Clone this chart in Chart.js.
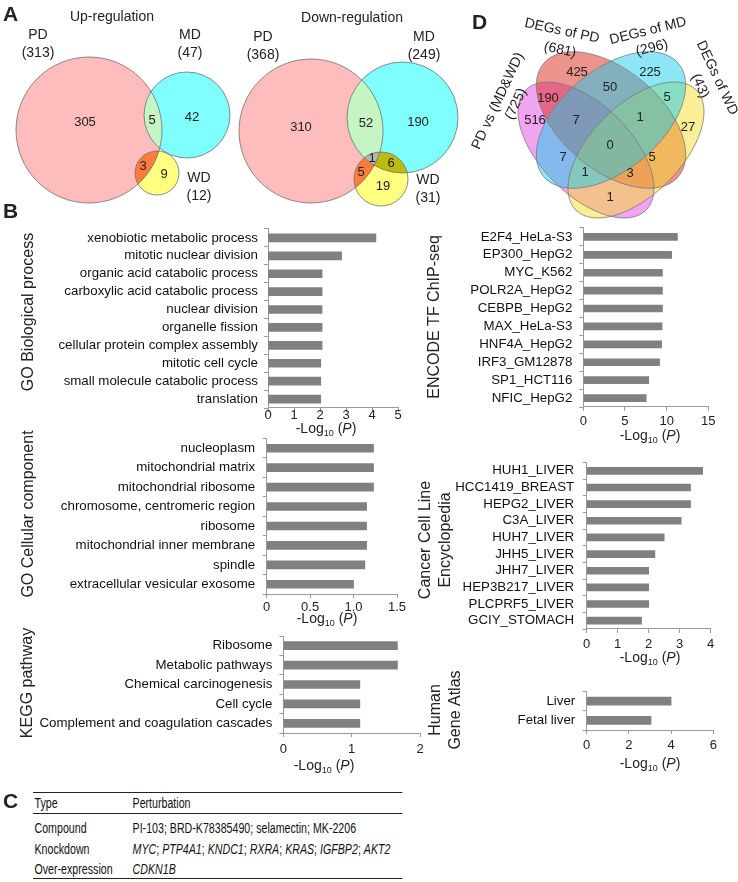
<!DOCTYPE html>
<html>
<head>
<meta charset="utf-8">
<script src="https://cdn.jsdelivr.net/npm/chart.js@4.4.1/dist/chart.umd.min.js"></script>
<style>
body { margin: 0; background: #fff; font-family: "Liberation Sans", Arial, sans-serif; color: #222; }
#page { position: relative; width: 738px; height: 882px; overflow: hidden; }
canvas { position: absolute; }
.lt { position: absolute; font-weight: bold; font-size: 21px; line-height: 1; }
#tblwrap { position: absolute; left: 33px; top: 792px; transform: scaleX(0.76); transform-origin: 0 0; }
#perturb { width: 486px; border-collapse: collapse; font-size: 14px; color: #111; }
#perturb th { text-align: left; font-weight: normal; height: 20px; padding: 0 2px;
  border-top: 1.5px solid #222; border-bottom: 1px solid #222; }
#perturb td { padding: 0 2px; height: 21px; white-space: nowrap; }
#perturb tbody tr:first-child td { padding-top: 3px; }
#perturb tbody tr:last-child td { border-bottom: 1.5px solid #222; height: 19px; }
#perturb .c1 { width: 125px; }
</style>
</head>
<body>
<div id="page">
  <canvas id="vennA"></canvas>
  <canvas id="vennD"></canvas>
  <canvas id="bp"></canvas>
  <canvas id="cc"></canvas>
  <canvas id="kegg"></canvas>
  <canvas id="encode"></canvas>
  <canvas id="ccle"></canvas>
  <canvas id="hga"></canvas>
  <div class="lt" style="left:3px;top:3px;">A</div>
  <div class="lt" style="left:3px;top:200px;">B</div>
  <div class="lt" style="left:3px;top:790px;">C</div>
  <div class="lt" style="left:472px;top:11px;">D</div>
  <div id="tblwrap">
    <table id="perturb">
      <thead><tr><th class="c1">Type</th><th>Perturbation</th></tr></thead>
      <tbody id="perturb-body"></tbody>
    </table>
  </div>
</div>
<script>
// Venn counts (panel A)
const upNames = ['PD', 'MD', 'WD'];
const upTotals = [313, 47, 12];
const upRegions = [305, 5, 42, 3, 9];            // PD, PD&MD, MD, PD&WD, WD
const downNames = ['PD', 'MD', 'WD'];
const downTotals = [368, 249, 31];
const downRegions = [310, 52, 190, 5, 1, 6, 19]; // PD, PD&MD, MD, PD&WD, all, MD&WD, WD

// Venn counts (panel D)
const quadNames = ['PD vs (MD&WD)', 'DEGs of PD', 'DEGs of MD', 'DEGs of WD'];
const quadTotals = [725, 681, 296, 43];
const quadRegions = [425, 225, 50, 190, 5, 516, 7, 1, 27, 0, 7, 5, 1, 3, 1];

// enrichment bars (panel B)
const bpLabels = ['xenobiotic metabolic process', 'mitotic nuclear division', 'organic acid catabolic process',
  'carboxylic acid catabolic process', 'nuclear division', 'organelle fission', 'cellular protein complex assembly',
  'mitotic cell cycle', 'small molecule catabolic process', 'translation'];
const bpValues = [4.15, 2.83, 2.08, 2.08, 2.08, 2.08, 2.08, 2.03, 2.03, 2.03];
const bpTicks = [0, 1, 2, 3, 4, 5];

const ccLabels = ['nucleoplasm', 'mitochondrial matrix', 'mitochondrial ribosome', 'chromosome, centromeric region',
  'ribosome', 'mitochondrial inner membrane', 'spindle', 'extracellular vesicular exosome'];
const ccValues = [1.23, 1.23, 1.23, 1.15, 1.15, 1.15, 1.13, 1.0];
const ccTicks = [0, 0.5, 1, 1.5];

const keggLabels = ['Ribosome', 'Metabolic pathways', 'Chemical carcinogenesis', 'Cell cycle',
  'Complement and coagulation cascades'];
const keggValues = [1.67, 1.67, 1.12, 1.12, 1.12];
const keggTicks = [0, 1, 2];

const encodeLabels = ['E2F4_HeLa-S3', 'EP300_HepG2', 'MYC_K562', 'POLR2A_HepG2', 'CEBPB_HepG2', 'MAX_HeLa-S3',
  'HNF4A_HepG2', 'IRF3_GM12878', 'SP1_HCT116', 'NFIC_HepG2'];
const encodeValues = [11.3, 10.6, 9.5, 9.5, 9.5, 9.45, 9.4, 9.15, 7.85, 7.55];
const encodeTicks = [0, 5, 10, 15];

const ccleLabels = ['HUH1_LIVER', 'HCC1419_BREAST', 'HEPG2_LIVER', 'C3A_LIVER', 'HUH7_LIVER', 'JHH5_LIVER',
  'JHH7_LIVER', 'HEP3B217_LIVER', 'PLCPRF5_LIVER', 'GCIY_STOMACH'];
const ccleValues = [3.74, 3.35, 3.35, 3.05, 2.5, 2.2, 2.0, 2.0, 2.0, 1.77];
const ccleTicks = [0, 1, 2, 3, 4];

const hgaLabels = ['Liver', 'Fetal liver'];
const hgaValues = [4.0, 3.05];
const hgaTicks = [0, 2, 4, 6];

// perturbations (panel C)
const perturbTypes = ['Compound', 'Knockdown', 'Over-expression'];
const perturbItems = [
  ['PI-103', 'BRD-K78385490', 'selamectin', 'MK-2206'],
  ['MYC', 'PTP4A1', 'KNDC1', 'RXRA', 'KRAS', 'IGFBP2', 'AKT2'],
  ['CDKN1B']
];
const perturbGenes = [false, true, true];

const FAM = '"Liberation Sans", Arial, sans-serif';
Chart.defaults.font.family = FAM;
Chart.defaults.color = '#222';

// ---------- Venn layout (page pixels) ----------
const upCircles = [{ x: 89, y: 130, r: 73 }, { x: 187, y: 115, r: 43 }, { x: 157, y: 173, r: 22 }];
const upSetPos = [[38, 35], [190, 35], [199, 178]];
const upRegionPos = [[85, 122], [152, 120], [192, 117], [143, 166], [164, 174]];
const downCircles = [{ x: 311, y: 131, r: 72 }, { x: 402.5, y: 117.5, r: 55.5 }, { x: 381, y: 179, r: 27 }];
const downSetPos = [[263, 37], [424, 37], [428, 180]];
const downRegionPos = [[301, 127], [366, 123], [418, 122], [361, 172], [372, 158], [391, 163], [383, 186]];

const vennFill = ['#ffbcbc', '#80ffff', '#ffff80'];
const vennPair = { '0-1': '#c6f5c4', '0-2': '#ff7c3c', '1-2': '#bcbc10' };
const vennAll = '#b4b4b4';

// sets A, B, C, D ; painted in order A, B, D, C
const quadEllipses = [
  { x: 586, y: 150, a: 85, b: 45, rot: 45, col: 'rgba(225,75,225,0.5)' },
  { x: 611, y: 120, a: 88, b: 50, rot: 40, col: 'rgba(220,40,30,0.5)' },
  { x: 611, y: 120, a: 88, b: 50, rot: -40, col: 'rgba(25,205,235,0.5)' },
  { x: 636, y: 150, a: 85, b: 45, rot: -45, col: 'rgba(245,221,45,0.5)' }
];
const quadOrder = [0, 1, 3, 2];
const quadNamePos = [
  { x: 498, y: 101, rot: -65, x2: 516, y2: 104 },
  { x: 562, y: 31, rot: 12, x2: 560, y2: 50 },
  { x: 648, y: 31, rot: -14, x2: 652, y2: 48 },
  { x: 717, y: 78, rot: 65, x2: 700, y2: 86 }
];
const quadRegionPos = [[577, 72], [650, 72], [610, 87], [548, 98], [667, 97], [535, 120], [576, 120], [640, 117],
  [688, 127], [610, 145], [563, 157], [652, 157], [585, 172], [630, 173], [610, 197]];

function placeCanvas(id, box) {
  const cv = document.getElementById(id);
  cv.width = box.w; cv.height = box.h;
  cv.style.left = box.x + 'px'; cv.style.top = box.y + 'px';
  cv.style.width = box.w + 'px'; cv.style.height = box.h + 'px';
  return cv;
}

function venn3(ctx, P, circles, names, totals, setPos, regions, regionPos, title) {
  const path = c => { ctx.beginPath(); ctx.arc(P.x(c.x), P.y(c.y), P.r(c.r), 0, Math.PI * 2); };
  circles.forEach((c, i) => { path(c); ctx.fillStyle = vennFill[i]; ctx.fill(); });
  Object.keys(vennPair).forEach(k => {
    const [i, j] = k.split('-').map(Number);
    ctx.save(); path(circles[i]); ctx.clip(); path(circles[j]); ctx.fillStyle = vennPair[k]; ctx.fill(); ctx.restore();
  });
  ctx.save(); path(circles[0]); ctx.clip(); path(circles[1]); ctx.clip(); path(circles[2]);
  ctx.fillStyle = vennAll; ctx.fill(); ctx.restore();
  ctx.strokeStyle = '#6e6e6e'; ctx.lineWidth = 0.8;
  circles.forEach(c => { path(c); ctx.stroke(); });

  ctx.fillStyle = '#222'; ctx.textAlign = 'center'; ctx.textBaseline = 'middle';
  ctx.font = '14px ' + FAM;
  ctx.fillText(title.text, P.x(title.x), P.y(title.y));
  names.forEach((n, i) => {
    ctx.fillText(n, P.x(setPos[i][0]), P.y(setPos[i][1]));
    ctx.fillText('(' + totals[i] + ')', P.x(setPos[i][0]), P.y(setPos[i][1] + 18));
  });
  ctx.font = '13px ' + FAM;
  regions.forEach((v, i) => ctx.fillText(String(v), P.x(regionPos[i][0]), P.y(regionPos[i][1])));
}

function scaleHelpers(chart) {
  const xs = chart.scales.x, ys = chart.scales.y;
  return {
    x: v => xs.getPixelForValue(v),
    y: v => ys.getPixelForValue(v),
    r: v => xs.getPixelForValue(xs.min + v) - xs.getPixelForValue(xs.min)
  };
}

function vennChart(id, box, drawFn) {
  const cv = placeCanvas(id, box);
  return new Chart(cv, {
    type: 'scatter',
    data: { datasets: [] },
    options: {
      responsive: false, animation: false,
      layout: { padding: 0 },
      plugins: { legend: { display: false }, tooltip: { enabled: false } },
      scales: {
        x: { type: 'linear', min: box.x, max: box.x + box.w, display: false },
        y: { type: 'linear', min: box.y, max: box.y + box.h, reverse: true, display: false }
      }
    },
    plugins: [{ id: 'vennDraw', afterDraw(chart) { drawFn(chart.ctx, scaleHelpers(chart)); } }]
  });
}

vennChart('vennA', { x: 0, y: 0, w: 470, h: 215 }, (ctx, P) => {
  venn3(ctx, P, upCircles, upNames, upTotals, upSetPos, upRegions, upRegionPos, { text: 'Up-regulation', x: 112, y: 17 });
  venn3(ctx, P, downCircles, downNames, downTotals, downSetPos, downRegions, downRegionPos, { text: 'Down-regulation', x: 352, y: 18 });
});

vennChart('vennD', { x: 470, y: 0, w: 268, h: 225 }, (ctx, P) => {
  const path = e => { ctx.beginPath(); ctx.ellipse(P.x(e.x), P.y(e.y), P.r(e.a), P.r(e.b), e.rot * Math.PI / 180, 0, Math.PI * 2); };
  quadOrder.forEach(i => { path(quadEllipses[i]); ctx.fillStyle = quadEllipses[i].col; ctx.fill(); });
  ctx.strokeStyle = '#7a7a7a'; ctx.lineWidth = 0.8;
  quadOrder.forEach(i => { path(quadEllipses[i]); ctx.stroke(); });
  ctx.fillStyle = '#222'; ctx.textAlign = 'center'; ctx.textBaseline = 'middle';
  const rotText = (t, x, y, rot) => {
    ctx.save(); ctx.translate(P.x(x), P.y(y)); ctx.rotate(rot * Math.PI / 180); ctx.fillText(t, 0, 0); ctx.restore();
  };
  ctx.font = '14px ' + FAM;
  quadNames.forEach((n, i) => {
    const p = quadNamePos[i];
    rotText(n, p.x, p.y, p.rot);
    rotText('(' + quadTotals[i] + ')', p.x2, p.y2, p.rot);
  });
  ctx.font = '13px ' + FAM;
  quadRegions.forEach((v, i) => ctx.fillText(String(v), P.x(quadRegionPos[i][0]), P.y(quadRegionPos[i][1])));
});

// ---------- bar charts ----------
function axisTexts(box, ax, groupTitle) {
  return {
    id: 'axisTexts',
    afterDraw(chart) {
      const ctx = chart.ctx;
      // -Log10 (P) under the x axis
      const parts = [['-Log', '14px ' + FAM, 0], ['10', '9px ' + FAM, 3], [' (', '14px ' + FAM, 0],
        ['P', 'italic 14px ' + FAM, 0], [')', '14px ' + FAM, 0]];
      ctx.save();
      ctx.fillStyle = '#222'; ctx.textAlign = 'left'; ctx.textBaseline = 'alphabetic';
      let w = 0;
      parts.forEach(p => { ctx.font = p[1]; w += ctx.measureText(p[0]).width; });
      let cx = ax.titleX - box.x - w / 2;
      const by = ax.titleY - box.y + 5;
      parts.forEach(p => { ctx.font = p[1]; ctx.fillText(p[0], cx, by + p[2]); cx += ctx.measureText(p[0]).width; });
      // rotated group title at the left
      ctx.font = '16px ' + FAM; ctx.textAlign = 'center'; ctx.textBaseline = 'middle';
      groupTitle.forEach((line, i) => {
        ctx.save();
        ctx.translate(ax.groupX - box.x + i * 20, ax.groupY - box.y);
        ctx.rotate(-Math.PI / 2);
        ctx.fillText(line, 0, 0);
        ctx.restore();
      });
      ctx.restore();
    }
  };
}

function enrichChart(id, box, ax, groupTitle, labels, values, ticks) {
  const cv = placeCanvas(id, box);
  return new Chart(cv, {
    type: 'bar',
    data: { labels: labels, datasets: [{ data: values, backgroundColor: '#808080', barThickness: ax.bar }] },
    options: {
      indexAxis: 'y', responsive: false, animation: false,
      layout: { padding: { left: 0, bottom: 0, top: ax.top - box.y, right: box.x + box.w - ax.right } },
      plugins: { legend: { display: false }, tooltip: { enabled: false } },
      scales: {
        x: {
          min: ticks[0], max: ticks[ticks.length - 1],
          afterBuildTicks: s => { s.ticks = ticks.map(v => ({ value: v })); },
          ticks: { font: { size: 13 }, color: '#222', padding: ax.tickPad, maxRotation: 0 },
          grid: { drawOnChartArea: false, tickLength: 4, color: '#9a9a9a' },
          border: { color: '#9a9a9a' },
          afterFit: s => { s.height = box.y + box.h - ax.bottom; }
        },
        y: {
          ticks: { font: { size: 13.3 }, color: '#111', padding: ax.labelPad, autoSkip: false },
          grid: { drawOnChartArea: false, tickLength: 4, color: '#9a9a9a', offset: true },
          border: { color: '#9a9a9a' },
          afterFit: s => { s.width = ax.zero - box.x; }
        }
      }
    },
    plugins: [axisTexts(box, ax, groupTitle)]
  });
}

enrichChart('bp', { x: 19, y: 215, w: 391, h: 225 },
  { zero: 268, right: 398, top: 225, bottom: 408, bar: 8, tickPad: -4, labelPad: 6, titleX: 326, titleY: 428, groupX: 29, groupY: 312 },
  ['GO Biological process'], bpLabels, bpValues, bpTicks);
enrichChart('cc', { x: 19, y: 420, w: 391, h: 208 },
  { zero: 266.7, right: 397, top: 438.5, bottom: 594, bar: 8, tickPad: 2, labelPad: 7.5, titleX: 327, titleY: 618, groupX: 29, groupY: 514 },
  ['GO Cellular component'], ccLabels, ccValues, ccTicks);
enrichChart('kegg', { x: 18, y: 616, w: 414, h: 160 },
  { zero: 283.3, right: 420, top: 636, bottom: 733, bar: 8, tickPad: 5, labelPad: 7, titleX: 324, titleY: 765, groupX: 28, groupY: 683 },
  ['KEGG pathway'], keggLabels, keggValues, keggTicks);
enrichChart('encode', { x: 425, y: 213, w: 297, h: 232 },
  { zero: 583.3, right: 708.3, top: 223, bottom: 407, bar: 7, tickPad: 3, labelPad: 7, titleX: 650, titleY: 435, groupX: 435, groupY: 317 },
  ['ENCODE TF ChIP-seq'], encodeLabels, encodeValues, encodeTicks);
enrichChart('ccle', { x: 416, y: 446, w: 306, h: 220 },
  { zero: 586.7, right: 710.7, top: 456.4, bottom: 629, bar: 7, tickPad: 4, labelPad: 8.5, titleX: 650, titleY: 657, groupX: 426, groupY: 540 },
  ['Cancer Cell Line', 'Encyclopedia'], ccleLabels, ccleValues, ccleTicks);
enrichChart('hga', { x: 426, y: 650, w: 299, h: 122 },
  { zero: 586.7, right: 713.3, top: 691.5, bottom: 730, bar: 8, tickPad: 4, labelPad: 7.5, titleX: 650, titleY: 763, groupX: 436, groupY: 710 },
  ['Human', 'Gene Atlas'], hgaLabels, hgaValues, hgaTicks);

// ---------- table C ----------
const tbody = document.getElementById('perturb-body');
perturbTypes.forEach((t, i) => {
  const items = perturbItems[i].map(s => perturbGenes[i] ? '<i>' + s + '</i>' : s).join('; ');
  tbody.innerHTML += '<tr><td class="c1">' + t + '</td><td>' + items + '</td></tr>';
});
</script>
</body>
</html>
